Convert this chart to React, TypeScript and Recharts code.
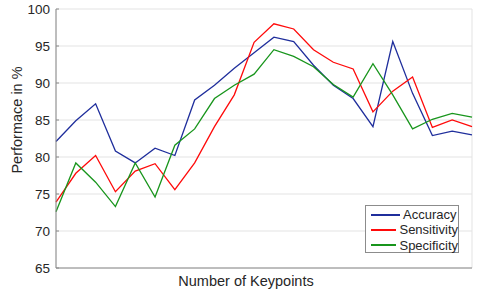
import { CartesianGrid, Line, LineChart, XAxis, YAxis } from 'recharts';

const keypoints = [0, 1, 2, 3, 4, 5, 6, 7, 8, 9, 10, 11, 12, 13, 14, 15, 16, 17, 18, 19, 20, 21];
const accuracy = [82.1, 84.9, 87.2, 80.8, 79.2, 81.2, 80.2, 87.7, 89.7, 92.0, 94.1, 96.2, 95.6, 92.4, 89.7, 87.9, 84.1, 95.6, 88.6, 82.9, 83.5, 83.0];
const sensitivity = [73.9, 77.8, 80.2, 75.3, 78.1, 79.1, 75.6, 79.2, 84.1, 88.4, 95.5, 98.0, 97.3, 94.5, 92.8, 91.9, 86.1, 88.9, 90.8, 84.0, 85.0, 84.1];
const specificity = [72.6, 79.2, 76.6, 73.3, 79.2, 74.6, 81.6, 83.8, 87.9, 89.7, 91.2, 94.5, 93.6, 92.2, 89.8, 88.1, 92.6, 88.4, 83.8, 85.1, 85.9, 85.4];
const yTicks = [65, 70, 75, 80, 85, 90, 95, 100];

const data = keypoints.map((k, i) => ({
  k,
  accuracy: accuracy[i],
  sensitivity: sensitivity[i],
  specificity: specificity[i],
}));

const series = [
  { key: 'accuracy', name: 'Accuracy', color: '#1f2e9c' },
  { key: 'sensitivity', name: 'Sensitivity', color: '#ff0a0a' },
  { key: 'specificity', name: 'Specificity', color: '#18951c' },
];

const font = '"Liberation Sans", Arial, sans-serif';
const axisGray = '#8a8a8a';

// legend drawn as a plain overlay so it doesn't eat plot height
const LegendBox = () => (
  <div
    style={{
      position: 'absolute',
      left: 365,
      top: 205,
      width: 94,
      height: 48,
      boxSizing: 'border-box',
      border: '1px solid #8c8c8c',
      background: '#fff',
      padding: '1px 0 0 5px',
      fontFamily: font,
      fontSize: 13,
      color: '#262626',
    }}
  >
    {series.map((s) => (
      <div key={s.key} style={{ display: 'flex', alignItems: 'center', height: 15.3, whiteSpace: 'nowrap' }}>
        <span style={{ display: 'inline-block', width: 29, height: 2, background: s.color, marginRight: 3 }} />
        {s.name}
      </div>
    ))}
  </div>
);

const XTitle = () => (
  <text x={246} y={286} textAnchor="middle" fill="#262626" fontSize={14.5} fontFamily={font}>
    Number of Keypoints
  </text>
);

const YTitle = () => (
  <text
    x={17}
    y={120}
    transform="rotate(-90 17 120)"
    textAnchor="middle"
    dominantBaseline="central"
    fill="#262626"
    fontSize={14.5}
    fontFamily={font}
  >
    Performace in %
  </text>
);

export default function App() {
  return (
    <div style={{ position: 'absolute', left: 0, top: 0, width: 480, height: 292, background: '#fff' }}>
      <LineChart width={480} height={292} data={data} margin={{ top: 9, right: 8, left: 0, bottom: 0 }}>
        <CartesianGrid stroke="#e3e3e3" strokeWidth={1} />
        <XAxis
          dataKey="k"
          type="number"
          domain={[0, 21]}
          ticks={keypoints}
          tick={false}
          tickLine={{ stroke: axisGray }}
          tickSize={-3}
          height={24}
          axisLine={{ stroke: axisGray }}
          label={{ content: <XTitle /> }}
        />
        <XAxis
          xAxisId="top"
          orientation="top"
          dataKey="k"
          type="number"
          domain={[0, 21]}
          ticks={keypoints}
          tick={false}
          tickLine={{ stroke: axisGray }}
          tickSize={-3}
          height={0}
          axisLine={{ stroke: axisGray }}
        />
        <YAxis
          domain={[65, 100]}
          ticks={yTicks}
          width={56}
          tickLine={{ stroke: axisGray }}
          tickSize={-3}
          tickMargin={9}
          axisLine={{ stroke: axisGray }}
          tick={{ fill: '#262626', fontSize: 13.5, fontFamily: font }}
          label={{ content: <YTitle /> }}
        />
        <YAxis
          yAxisId="right"
          orientation="right"
          domain={[65, 100]}
          ticks={yTicks}
          width={0}
          tick={false}
          tickLine={{ stroke: axisGray }}
          tickSize={-3}
          axisLine={{ stroke: axisGray }}
        />
        {series.map((s) => (
          <Line
            key={s.key}
            type="linear"
            dataKey={s.key}
            name={s.name}
            stroke={s.color}
            strokeWidth={1.3}
            dot={false}
            isAnimationActive={false}
          />
        ))}
      </LineChart>
      <LegendBox />
    </div>
  );
}
